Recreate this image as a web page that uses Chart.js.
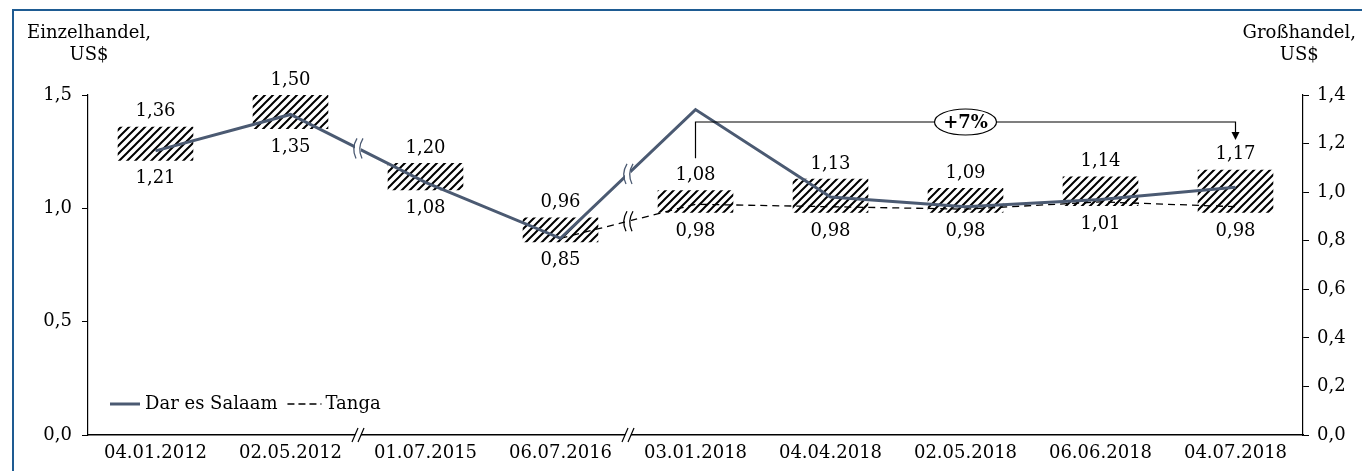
<!DOCTYPE html>
<html><head><meta charset="utf-8">
<script src="https://cdn.jsdelivr.net/npm/chart.js@4.4.1/dist/chart.umd.min.js"></script>
<style>html,body{margin:0;padding:0;background:#fff;}canvas{display:block;}</style>
</head><body>
<canvas id="c" width="1362" height="471"></canvas>
<script>
const categories = ['04.01.2012','02.05.2012','01.07.2015','06.07.2016','03.01.2018','04.04.2018','02.05.2018','06.06.2018','04.07.2018'];
const retailMin = [1.21,1.35,1.08,0.85,0.98,0.98,0.98,1.01,0.98];
const retailMax = [1.36,1.50,1.20,0.96,1.08,1.13,1.09,1.14,1.17];
const darEsSalaam = [1.17,1.32,1.04,0.81,1.34,0.98,0.94,0.97,1.02];
const tanga = [null,null,null,0.81,0.95,0.94,0.93,0.96,0.94];
const seriesNames = ['Dar es Salaam','Tanga'];
const axisTitles = {left:['Einzelhandel,','US$'], right:['Großhandel,','US$']};
const changeLabel = '+7%';
const breakAfter = [1,3]; // axis breaks between these index and the next

const FONT = 'DejaVu Serif';
const FS = 18;
const LINE_COLOR = '#4b5a72';
const fmt2 = v => v.toFixed(2).replace('.',',');
const fmt1 = v => v.toFixed(1).replace('.',',');

function makeHatch(){
  const s = 8, cv = document.createElement('canvas');
  cv.width = s; cv.height = s;
  const g = cv.getContext('2d');
  g.fillStyle = '#fff'; g.fillRect(0,0,s,s);
  g.strokeStyle = '#000'; g.lineWidth = 2.0; g.lineCap='butt';
  g.beginPath();
  for (let k=-1;k<=1;k++){ g.moveTo(k*s - 1, s + 1); g.lineTo(k*s + s + 1, -1); }
  g.stroke();
  return document.getElementById('c').getContext('2d').createPattern(cv,'repeat');
}

const decor = {
  id:'decor',
  beforeDraw(chart){
    const ctx = chart.ctx;
    ctx.save();
    ctx.fillStyle='#fff'; ctx.fillRect(0,0,chart.width,chart.height);
    ctx.restore();
  },
  afterDatasetsDraw(chart){
    const ctx = chart.ctx, x = chart.scales.x, y = chart.scales.y;
    ctx.save();
    const drawLineBreak = (dsIndex, i) => {
      const meta = chart.getDatasetMeta(dsIndex);
      const a = meta.data[i], b = meta.data[i+1];
      if (!a || !b || a.skip || b.skip) return;
      const bx = (x.getPixelForValue(i) + x.getPixelForValue(i+1))/2;
      const t = (bx - a.x)/(b.x - a.x);
      const by = a.y + t*(b.y - a.y);
      const col = dsIndex===1 ? LINE_COLOR : '#000';
      ctx.fillStyle='#fff';
      ctx.fillRect(bx-3, by-7, 6, 14);
      ctx.strokeStyle = col; ctx.lineWidth = 1.3;
      [-3,3].forEach(dx=>{
        ctx.beginPath();
        ctx.moveTo(bx+dx+2, by-10);
        ctx.quadraticCurveTo(bx+dx-4, by, bx+dx+1, by+10);
        ctx.stroke();
      });
    };
    breakAfter.forEach(i=>{ drawLineBreak(1,i); drawLineBreak(2,i); });
    ctx.fillStyle='#000';
    ctx.font = FS+'px "'+FONT+'"';
    ctx.textAlign='center'; ctx.textBaseline='middle';
    categories.forEach((c,i)=>{
      const px = x.getPixelForValue(i);
      ctx.fillText(fmt2(retailMax[i]), px, y.getPixelForValue(retailMax[i]) - 15);
      ctx.fillText(fmt2(retailMin[i]), px, y.getPixelForValue(retailMin[i]) + 18);
    });
    ctx.restore();
  },
  afterDraw(chart){
    const ctx = chart.ctx, x = chart.scales.x, area = chart.chartArea;
    ctx.save();
    ctx.strokeStyle='#1e5b92'; ctx.lineWidth=2;
    ctx.beginPath(); ctx.moveTo(13, chart.height); ctx.lineTo(13, 10); ctx.lineTo(chart.width, 10); ctx.stroke();
    ctx.fillStyle='#000'; ctx.font=FS+'px "'+FONT+'"'; ctx.textBaseline='middle';
    ctx.textAlign='center';
    const lw = ctx.measureText(axisTitles.left[0]).width;
    ctx.fillText(axisTitles.left[0], 27+lw/2, 33);
    ctx.fillText(axisTitles.left[1], 27+lw/2, 55);
    const rw = ctx.measureText(axisTitles.right[0]).width;
    ctx.fillText(axisTitles.right[0], 1356-rw/2, 33);
    ctx.fillText(axisTitles.right[1], 1356-rw/2, 55);
    breakAfter.forEach(i=>{
      const bx = (x.getPixelForValue(i) + x.getPixelForValue(i+1))/2;
      const by = area.bottom;
      ctx.fillStyle='#fff'; ctx.fillRect(bx-3, by-2, 6, 4);
      ctx.strokeStyle='#000'; ctx.lineWidth=1.2;
      [-3,3].forEach(dx=>{
        ctx.beginPath(); ctx.moveTo(bx+dx-3, by+7); ctx.lineTo(bx+dx+3, by-7); ctx.stroke();
      });
    });
    const x0 = x.getPixelForValue(4), x1 = x.getPixelForValue(8);
    const yTop = area.top + 27;
    ctx.strokeStyle='#000'; ctx.lineWidth=1.2;
    ctx.beginPath();
    ctx.moveTo(x0, chart.scales.y.getPixelForValue(retailMax[4]) - 32);
    ctx.lineTo(x0, yTop); ctx.lineTo(x1, yTop); ctx.lineTo(x1, yTop+12);
    ctx.stroke();
    ctx.fillStyle='#000';
    ctx.beginPath(); ctx.moveTo(x1-4, yTop+10); ctx.lineTo(x1+4, yTop+10); ctx.lineTo(x1, yTop+18); ctx.closePath(); ctx.fill();
    const cx = (x0+x1)/2;
    ctx.fillStyle='#fff';
    ctx.beginPath(); ctx.ellipse(cx, yTop, 31, 13, 0, 0, Math.PI*2); ctx.fill(); ctx.stroke();
    ctx.fillStyle='#000'; ctx.font='bold '+FS+'px "'+FONT+'"'; ctx.textAlign='center';
    ctx.fillText(changeLabel, cx, yTop+1);
    const ly = 404;
    ctx.font=FS+'px "'+FONT+'"'; ctx.textAlign='left';
    ctx.strokeStyle=LINE_COLOR; ctx.lineWidth=3;
    ctx.beginPath(); ctx.moveTo(110, ly); ctx.lineTo(140, ly); ctx.stroke();
    ctx.fillText(seriesNames[0], 145, ly);
    const tx = 145 + ctx.measureText(seriesNames[0]).width + 10;
    ctx.strokeStyle='#000'; ctx.lineWidth=1.3; ctx.setLineDash([7,4]);
    ctx.beginPath(); ctx.moveTo(tx, ly); ctx.lineTo(tx+34, ly); ctx.stroke();
    ctx.setLineDash([]);
    ctx.fillText(seriesNames[1], tx+38, ly);
    ctx.restore();
  }
};

const tickFont = {family: FONT, size: FS};
new Chart(document.getElementById('c'), {
  data: {
    labels: categories,
    datasets: [
      {type:'bar', label:'Einzelhandel', data: retailMin.map((v,i)=>[v, retailMax[i]]), yAxisID:'y',
       backgroundColor: makeHatch(), borderWidth:0, barPercentage:0.56, categoryPercentage:1, order:3},
      {type:'line', label: seriesNames[0], data: darEsSalaam, yAxisID:'y1', borderColor: LINE_COLOR,
       borderWidth:3, pointRadius:0, tension:0, order:1},
      {type:'line', label: seriesNames[1], data: tanga, yAxisID:'y1', borderColor:'#000',
       borderWidth:1.3, borderDash:[7,5], pointRadius:0, tension:0, spanGaps:false, order:2}
    ]
  },
  options: {
    responsive:false, animation:false,
    layout:{padding:{top:95, left:0, right:0, bottom:0}},
    plugins:{legend:{display:false}, tooltip:{enabled:false}},
    scales:{
      x:{offset:true, grid:{display:false, drawTicks:false}, border:{color:'#000', width:1.5},
         ticks:{color:'#000', font:tickFont, padding:8, maxRotation:0, autoSkip:false},
         afterFit(s){ s.height = 36; }},
      y:{position:'left', min:0, max:1.5, grid:{drawOnChartArea:false, tickLength:6, color:'#000'},
         border:{color:'#000', width:1.2},
         ticks:{stepSize:0.5, color:'#000', font:tickFont, padding:10, callback:v=>fmt1(v)},
         afterFit(s){ s.width = 88; }},
      y1:{position:'right', min:0, max:1.4, grid:{drawOnChartArea:false, tickLength:6, color:'#000'},
         border:{color:'#000', width:1.2},
         ticks:{stepSize:0.2, color:'#000', font:tickFont, padding:8, callback:v=>fmt1(v)},
         afterFit(s){ s.width = 59; }}
    }
  },
  plugins:[decor]
});
</script>
</body></html>
